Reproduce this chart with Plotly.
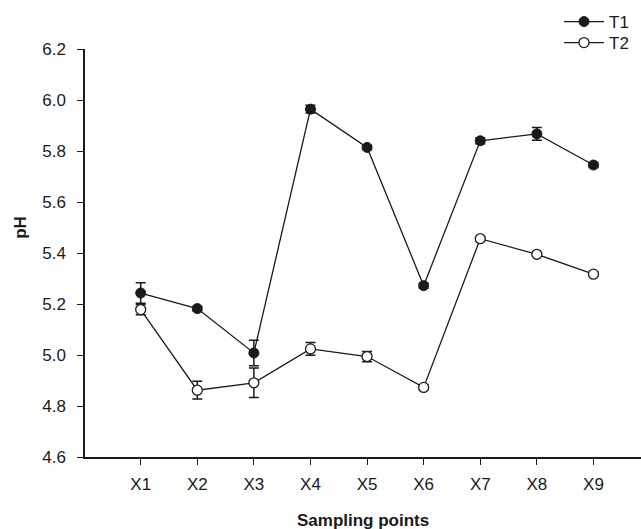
import plotly.graph_objects as go

categories = ["X1", "X2", "X3", "X4", "X5", "X6", "X7", "X8", "X9"]
t1_values = [5.243, 5.182, 5.008, 5.964, 5.814, 5.272, 5.840, 5.867, 5.745]
t1_errors = [0.040, 0.008, 0.050, 0.015, 0.008, 0.010, 0.012, 0.025, 0.010]
t2_values = [5.178, 4.862, 4.891, 5.024, 4.994, 4.873, 5.456, 5.395, 5.317]
t2_errors = [0.020, 0.035, 0.058, 0.025, 0.020, 0.008, 0.008, 0.006, 0.008]
y_ticks = [4.6, 4.8, 5.0, 5.2, 5.4, 5.6, 5.8, 6.0, 6.2]

FONT = "Liberation Sans, Arial, sans-serif"
INK = "#1a1a1a"
PLOT_TOP, PLOT_BOTTOM, PLOT_LEFT, PLOT_W = 49, 457.3, 85, 556
PLOT_H = PLOT_BOTTOM - PLOT_TOP


def py(pixel_y):
    return (PLOT_BOTTOM - pixel_y) / PLOT_H


def px(pixel_x):
    return (pixel_x - PLOT_LEFT) / PLOT_W


fig = go.Figure()
fig.add_trace(go.Scatter(
    x=categories, y=t1_values, name="T1", mode="lines+markers", legend="legend",
    line=dict(color=INK, width=1.3),
    marker=dict(symbol="circle", size=10, color=INK, line=dict(color=INK, width=1)),
    error_y=dict(type="data", array=t1_errors, visible=True, color=INK, thickness=1.5, width=5),
))
fig.add_trace(go.Scatter(
    x=categories, y=t2_values, name="T2", mode="lines+markers", legend="legend2",
    line=dict(color=INK, width=1.3),
    marker=dict(symbol="circle", size=10, color="white", line=dict(color=INK, width=1.3)),
    error_y=dict(type="data", array=t2_errors, visible=True, color=INK, thickness=1.5, width=5),
))

legend_common = dict(xanchor="left", yanchor="middle", bgcolor="rgba(0,0,0,0)",
                     font=dict(size=17, color=INK), itemwidth=40)

fig.update_layout(
    width=641, height=529,
    margin=dict(l=85, r=0, t=49, b=72),
    paper_bgcolor="white", plot_bgcolor="white",
    font=dict(family=FONT, size=17, color=INK),
    showlegend=True,
    legend=dict(x=px(559), y=py(22), **legend_common),
    legend2=dict(x=px(559), y=py(43), **legend_common),
    xaxis=dict(
        type="category", range=[-0.984, 8.84],
        showline=True, linecolor=INK, linewidth=1.5,
        ticks="outside", ticklen=6, tickwidth=1.2, tickcolor=INK,
        showgrid=False, zeroline=False, ticklabelstandoff=5,
        tickfont=dict(size=17, color=INK),
    ),
    yaxis=dict(
        range=[4.6, 6.2], tickvals=y_ticks, ticktext=[f"{v:.1f}" for v in y_ticks],
        showline=True, linecolor=INK, linewidth=1.5,
        ticks="outside", ticklen=6, tickwidth=1.2, tickcolor=INK,
        showgrid=False, zeroline=False, ticklabelstandoff=8,
        tickfont=dict(size=17, color=INK),
    ),
    annotations=[
        dict(text="<b>Sampling points</b>", xref="paper", yref="paper",
             x=0.5, y=py(521), xanchor="center", yanchor="middle",
             showarrow=False, font=dict(size=17, color=INK)),
        dict(text="<b>pH</b>", xref="paper", yref="paper",
             x=px(21), y=py(228), xanchor="center", yanchor="middle",
             textangle=-90, showarrow=False, font=dict(size=17, color=INK)),
    ],
)

fig.write_html("out.html")
